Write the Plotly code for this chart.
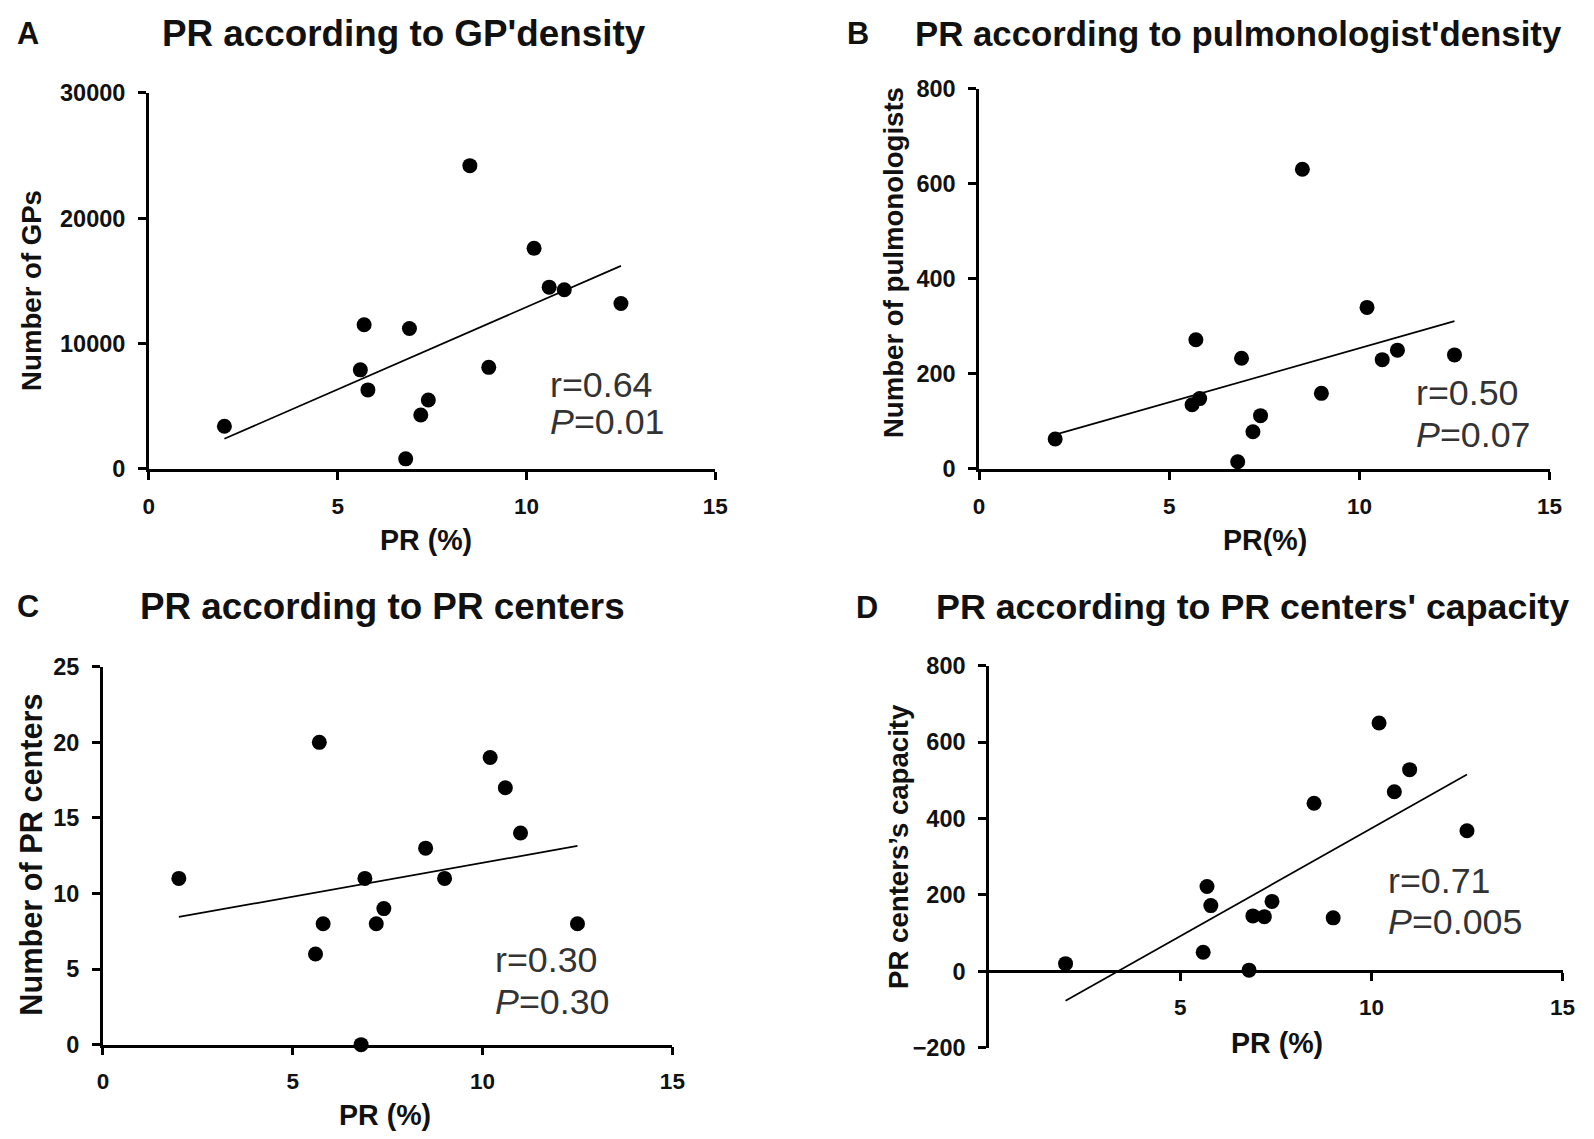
import plotly.graph_objects as go

# figure size and an empirically measured page mapping (rendered = A + B * figure_px)
W, H = 1594, 1139
AX, BX = 12.0, 0.989
AY, BY = 20.0, 0.9775

# ---- data ----
pr = [2.0, 5.6, 5.7, 5.8, 6.8, 6.9, 7.2, 7.4, 8.5, 9.0, 10.2, 10.6, 11.0, 12.5]
gps = [3400, 7900, 11500, 6300, 800, 11200, 4300, 5500, 24200, 8100, 17600, 14500, 14300, 13200]
pulmo = [63, 135, 272, 148, 15, 233, 78, 112, 631, 159, 340, 230, 250, 240]
centers = [11, 6, 20, 8, 0, 11, 8, 9, 13, 11, 19, 17, 14, 8]
capacity = [20, 50, 222, 172, 3, 145, 143, 183, 440, 140, 650, 470, 528, 368]

fit_x = [2.0, 12.5]
fit_gps = [2400, 16200]
fit_pulmo = [72, 311]
fit_centers = [8.45, 13.15]
fit_capacity = [-77, 515]

titles = ["PR according to GP'density", "PR according to pulmonologist'density",
          "PR according to PR centers", "PR according to PR centers' capacity"]
letters = ["A", "B", "C", "D"]
ytitles = ["Number of GPs", "Number of pulmonologists", "Number of PR centers", "PR centers\u2019s capacity"]
xtitles = ["PR (%)", "PR(%)", "PR (%)", "PR (%)"]
r_texts = ["r=0.64", "r=0.50", "r=0.30", "r=0.71"]
p_texts = ["0.01", "0.07", "0.30", "0.005"]

yranges = [[0, 30000], [0, 800], [0, 25], [-200, 800]]
ydticks = [10000, 200, 5, 200]

# ---- target geometry (page pixels of the reference) ----
boxes = [  # x0, x1, ytop, ybottom
    (147, 714, 92, 468),
    (978, 1549, 88, 468),
    (101, 671, 666, 1044),
    (988, 1562, 665, 1047),
]


def px(x):
    return ((x - AX) / BX) / W


def py(y):
    return 1 - ((y - AY) / BY) / H


def fs(s):
    return round(s / BY, 1)


FONT = "Liberation Sans, Arial, sans-serif"
INK = "#111111"

fig = go.Figure()
series = [gps, pulmo, centers, capacity]
fits = [fit_gps, fit_pulmo, fit_centers, fit_capacity]

layout = dict(width=W, height=H, margin=dict(l=0, r=0, t=0, b=0),
              paper_bgcolor="white", plot_bgcolor="white", showlegend=False,
              font=dict(family=FONT, color=INK))
annotations = []

for i in range(4):
    n = "" if i == 0 else str(i + 1)
    xa, ya = "x" + n, "y" + n
    fig.add_trace(go.Scatter(x=fit_x, y=fits[i], mode="lines", xaxis=xa, yaxis=ya,
                             line=dict(color="black", width=1.7), cliponaxis=False))
    fig.add_trace(go.Scatter(x=pr, y=series[i], mode="markers", xaxis=xa, yaxis=ya,
                             marker=dict(color="black", size=15, line=dict(width=0)),
                             cliponaxis=False))
    x0, x1, yt, yb = boxes[i]
    xdom = [px(x0), px(x1)]
    ydom = [py(yb), py(yt)]
    xaxis = dict(domain=xdom, range=[0, 15], anchor=ya, showline=True, linecolor="black",
                 linewidth=2.6, ticks="outside", ticklen=8, tickwidth=2.6, tickcolor="black",
                 showgrid=False, zeroline=False, tickvals=[0, 5, 10, 15],
                 tickfont=dict(family=FONT, size=fs(22), color=INK, weight="bold"),
                 ticklabelstandoff=7)
    yaxis = dict(domain=ydom, range=yranges[i], anchor=xa, showline=True, linecolor="black",
                 linewidth=2.6, ticks="outside", ticklen=8, tickwidth=2.6, tickcolor="black",
                 showgrid=False, zeroline=False, dtick=ydticks[i], tick0=0, tickformat="d",
                 tickfont=dict(family=FONT, size=fs(23), color=INK, weight="bold"),
                 ticklabelstandoff=8)
    if i == 3:
        lo, hi = yranges[i]
        pos = ydom[0] + (0 - lo) / (hi - lo) * (ydom[1] - ydom[0])
        xaxis.update(anchor="free", position=pos, tickvals=[5, 10, 15])
    layout["xaxis" + n] = xaxis
    layout["yaxis" + n] = yaxis

    # titles (kept inside the figure's top edge)
    tcx = [402, 1238, 381, 1252][i]
    tcy = [33, 33, 606, 606][i]
    tsz = [36, 34, 36, 35][i]
    annotations.append(dict(text=titles[i], x=px(tcx), y=py(tcy), xref="paper", yref="paper",
                            xanchor="center", yanchor="middle", showarrow=False,
                            font=dict(family=FONT, size=fs(tsz), color=INK, weight="bold")))
    lx, ly = [(26, 30), (857, 30), (26, 606), (866, 607)][i]
    annotations.append(dict(text=letters[i], x=px(lx), y=min(py(ly), 1.0 - 13 / H), xref="paper",
                            yref="paper", xanchor="center", yanchor="middle", showarrow=False,
                            font=dict(family=FONT, size=fs(30), color=INK, weight="bold")))
    xty = [539, 539, 1114, 1042][i]
    xtx = [424, 1264, 383, 1276][i]
    annotations.append(dict(text=xtitles[i], x=px(xtx), y=py(xty), xref="paper", yref="paper",
                            xanchor="center", yanchor="middle", showarrow=False,
                            font=dict(family=FONT, size=fs(28), color=INK, weight="bold")))
    ytx, yty = [(30, 289), (893, 262), (30, 854), (898, 846)][i]
    ysz = [27, 27, 30, 27][i]
    annotations.append(dict(text=ytitles[i], x=px(ytx), y=py(yty), xref="paper", yref="paper",
                            xanchor="center", yanchor="middle", showarrow=False, textangle=-90,
                            font=dict(family=FONT, size=fs(ysz), color=INK, weight="bold")))
    rx, ry, pyy = [(546, 384, 421), (1413, 392, 434), (491, 959, 1001), (1385, 880, 921)][i]
    annotations.append(dict(text=r_texts[i], x=px(rx), y=py(ry), xref="paper", yref="paper",
                            xanchor="left", yanchor="middle", showarrow=False,
                            font=dict(family=FONT, size=fs(35), color="#333333")))
    annotations.append(dict(text="<i>P</i>=" + p_texts[i], x=px(rx), y=py(pyy), xref="paper",
                            yref="paper", xanchor="left", yanchor="middle", showarrow=False,
                            font=dict(family=FONT, size=fs(35), color="#333333")))

layout["annotations"] = annotations
fig.update_layout(**layout)
fig.write_html("out.html")
